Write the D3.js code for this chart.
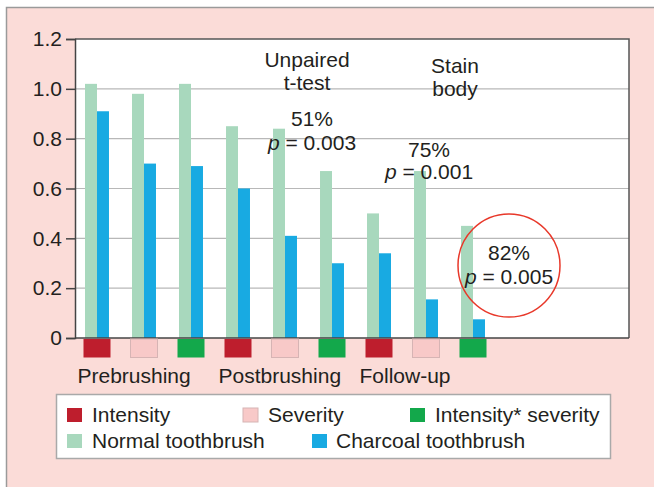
<!DOCTYPE html>
<html>
<head>
<meta charset="utf-8">
<script src="https://cdn.jsdelivr.net/npm/d3@7"></script>
<style>
  body { margin: 0; background: #fff; }
  svg { display: block; font-family: Arial, "Liberation Sans", Helvetica, sans-serif; }
  text { fill: #231f20; }
</style>
</head>
<body>
<svg id="chart" width="654" height="487"></svg>
<script>
// Chart values
var groups = ['g1', 'g2', 'g3', 'g4', 'g5', 'g6', 'g7', 'g8', 'g9'];
var measureOf = ['Intensity', 'Severity', 'Intensity* severity',
                 'Intensity', 'Severity', 'Intensity* severity',
                 'Intensity', 'Severity', 'Intensity* severity'];
var sessions = ['Prebrushing', 'Postbrushing', 'Follow-up'];
var normalValues = [1.02, 0.98, 1.02, 0.85, 0.84, 0.67, 0.50, 0.67, 0.45];
var charcoalValues = [0.91, 0.70, 0.69, 0.60, 0.41, 0.30, 0.34, 0.155, 0.075];
var yTicks = [0, 0.2, 0.4, 0.6, 0.8, 1.0, 1.2];
var seriesNames = ['Normal toothbrush', 'Charcoal toothbrush'];

var measureColors = {
  'Intensity': '#be1e2d',
  'Severity': '#f8c9c8',
  'Intensity* severity': '#13a84b'
};
var seriesColors = { 'Normal toothbrush': '#a8d8bd', 'Charcoal toothbrush': '#18aae2' };

var drawChart = function () {
  let svg = d3.select('#chart');

  // outer pink panel
  svg.append('rect')
    .attr('x', 6.5).attr('y', 7.5)
    .attr('width', 700).attr('height', 500)
    .attr('fill', '#fbdcd8')
    .attr('stroke', '#9a9a9a').attr('stroke-width', 1.5);

  let pLeft = 75, pRight = 629, pTop = 39, pBottom = 338;

  let x = d3.scaleBand()
    .domain(groups)
    .range([75, 495])
    .paddingInner(0.49)
    .paddingOuter(0.213);

  let xSub = d3.scaleBand()
    .domain(seriesNames)
    .range([0, x.bandwidth()]);

  let y = d3.scaleLinear().domain([0, 1.2]).range([pBottom, pTop]);

  // plot area
  svg.append('rect')
    .attr('x', pLeft).attr('y', pTop)
    .attr('width', pRight - pLeft).attr('height', pBottom - pTop)
    .attr('fill', '#fff');

  // gridlines
  svg.append('g')
    .selectAll('line')
    .data(yTicks.filter(d => d > 0 && d < 1.2))
    .enter().append('line')
    .attr('x1', pLeft).attr('x2', pRight)
    .attr('y1', d => y(d)).attr('y2', d => y(d))
    .attr('stroke', '#b8b8b8').attr('stroke-width', 1.2);

  // bars
  let bars = svg.append('g')
    .selectAll('g')
    .data(groups)
    .enter().append('g')
    .attr('transform', d => `translate(${x(d)},0)`);

  bars.append('rect')
    .attr('x', xSub('Normal toothbrush'))
    .attr('width', xSub.bandwidth())
    .attr('y', (d, i) => y(normalValues[i]))
    .attr('height', (d, i) => y(0) - y(normalValues[i]))
    .attr('fill', seriesColors['Normal toothbrush']);

  bars.append('rect')
    .attr('x', xSub('Charcoal toothbrush'))
    .attr('width', xSub.bandwidth())
    .attr('y', (d, i) => y(charcoalValues[i]))
    .attr('height', (d, i) => y(0) - y(charcoalValues[i]))
    .attr('fill', seriesColors['Charcoal toothbrush']);

  // frame: top and right border
  svg.append('path')
    .attr('d', `M${pLeft},${pTop}H${pRight}V${pBottom}`)
    .attr('fill', 'none').attr('stroke', '#555').attr('stroke-width', 1.5);

  // y axis
  let yAxis = svg.append('g')
    .attr('transform', `translate(${pLeft},0)`)
    .call(d3.axisLeft(y).tickValues(yTicks)
      .tickFormat(d => d === 0 ? '0' : d3.format('.1f')(d))
      .tickSize(9).tickPadding(4));
  yAxis.select('.domain').attr('stroke', '#444').attr('stroke-width', 1.5);
  yAxis.selectAll('.tick line').attr('stroke', '#444').attr('stroke-width', 1.5);
  yAxis.selectAll('.tick text')
    .attr('font-size', 21).attr('font-family', 'Arial, "Liberation Sans", sans-serif')
    .style('fill', '#231f20');

  // x axis line
  svg.append('line')
    .attr('x1', pLeft).attr('x2', pRight)
    .attr('y1', pBottom).attr('y2', pBottom)
    .attr('stroke', '#444').attr('stroke-width', 1.5);

  // measure boxes under each group
  svg.append('g')
    .selectAll('rect')
    .data(groups)
    .enter().append('rect')
    .attr('x', d => x(d) + x.bandwidth() / 2 - 13.5)
    .attr('y', pBottom + 1)
    .attr('width', 27).attr('height', 18.5)
    .attr('fill', (d, i) => measureColors[measureOf[i]])
    .attr('stroke', (d, i) => measureOf[i] === 'Severity' ? '#d6b4b4' : 'none');

  // session labels
  svg.append('g')
    .selectAll('text')
    .data(sessions)
    .enter().append('text')
    .attr('x', (d, i) => x(groups[i * 3]) + x.bandwidth() / 2 - 19.5)
    .attr('y', 383)
    .attr('font-size', 21)
    .text(d => d);

  // annotations
  let note = function (tx, ty, parts) {
    let t = svg.append('text')
      .attr('x', tx).attr('y', ty)
      .attr('text-anchor', 'middle')
      .attr('font-size', 21);
    parts.forEach(p => {
      t.append('tspan').attr('font-style', p[1] ? 'italic' : null).text(p[0]);
    });
  };
  note(307, 67, [['Unpaired']]);
  note(307, 90, [['t-test']]);
  note(455, 73, [['Stain']]);
  note(455, 96, [['body']]);
  note(312, 126, [['51%']]);
  note(312, 150, [['p', true], [' = 0.003']]);
  note(429, 157, [['75%']]);
  note(429, 179, [['p', true], [' = 0.001']]);

  svg.append('ellipse')
    .attr('cx', 509).attr('cy', 265.5)
    .attr('rx', 51).attr('ry', 51.5)
    .attr('fill', 'none').attr('stroke', '#e8382a').attr('stroke-width', 1.5);
  note(509, 260, [['82%']]);
  note(509, 284, [['p', true], [' = 0.005']]);

  // legend
  let legend = svg.append('g');
  legend.append('rect')
    .attr('x', 56.5).attr('y', 394.5)
    .attr('width', 554).attr('height', 64)
    .attr('fill', '#fff').attr('stroke', '#a9a9a9').attr('stroke-width', 1.5);

  let legendItems = [
    { name: 'Intensity', color: measureColors['Intensity'], sx: 67, tx: 92, row: 0 },
    { name: 'Severity', color: measureColors['Severity'], sx: 243, tx: 268, row: 0 },
    { name: 'Intensity* severity', color: measureColors['Intensity* severity'], sx: 410, tx: 435, row: 0 },
    { name: seriesNames[0], color: seriesColors[seriesNames[0]], sx: 67, tx: 92, row: 1 },
    { name: seriesNames[1], color: seriesColors[seriesNames[1]], sx: 312, tx: 336, row: 1 }
  ];

  let li = legend.selectAll('g.item')
    .data(legendItems)
    .enter().append('g')
    .attr('class', 'item')
    .attr('transform', d => `translate(0,${d.row * 26})`);

  li.append('rect')
    .attr('x', d => d.sx).attr('y', 408)
    .attr('width', 15).attr('height', 14)
    .attr('fill', d => d.color)
    .attr('stroke', d => d.name === 'Severity' ? '#d6b4b4' : 'none');

  li.append('text')
    .attr('x', d => d.tx).attr('y', 422)
    .attr('font-size', 21)
    .text(d => d.name);
};

drawChart();
</script>
</body>
</html>
